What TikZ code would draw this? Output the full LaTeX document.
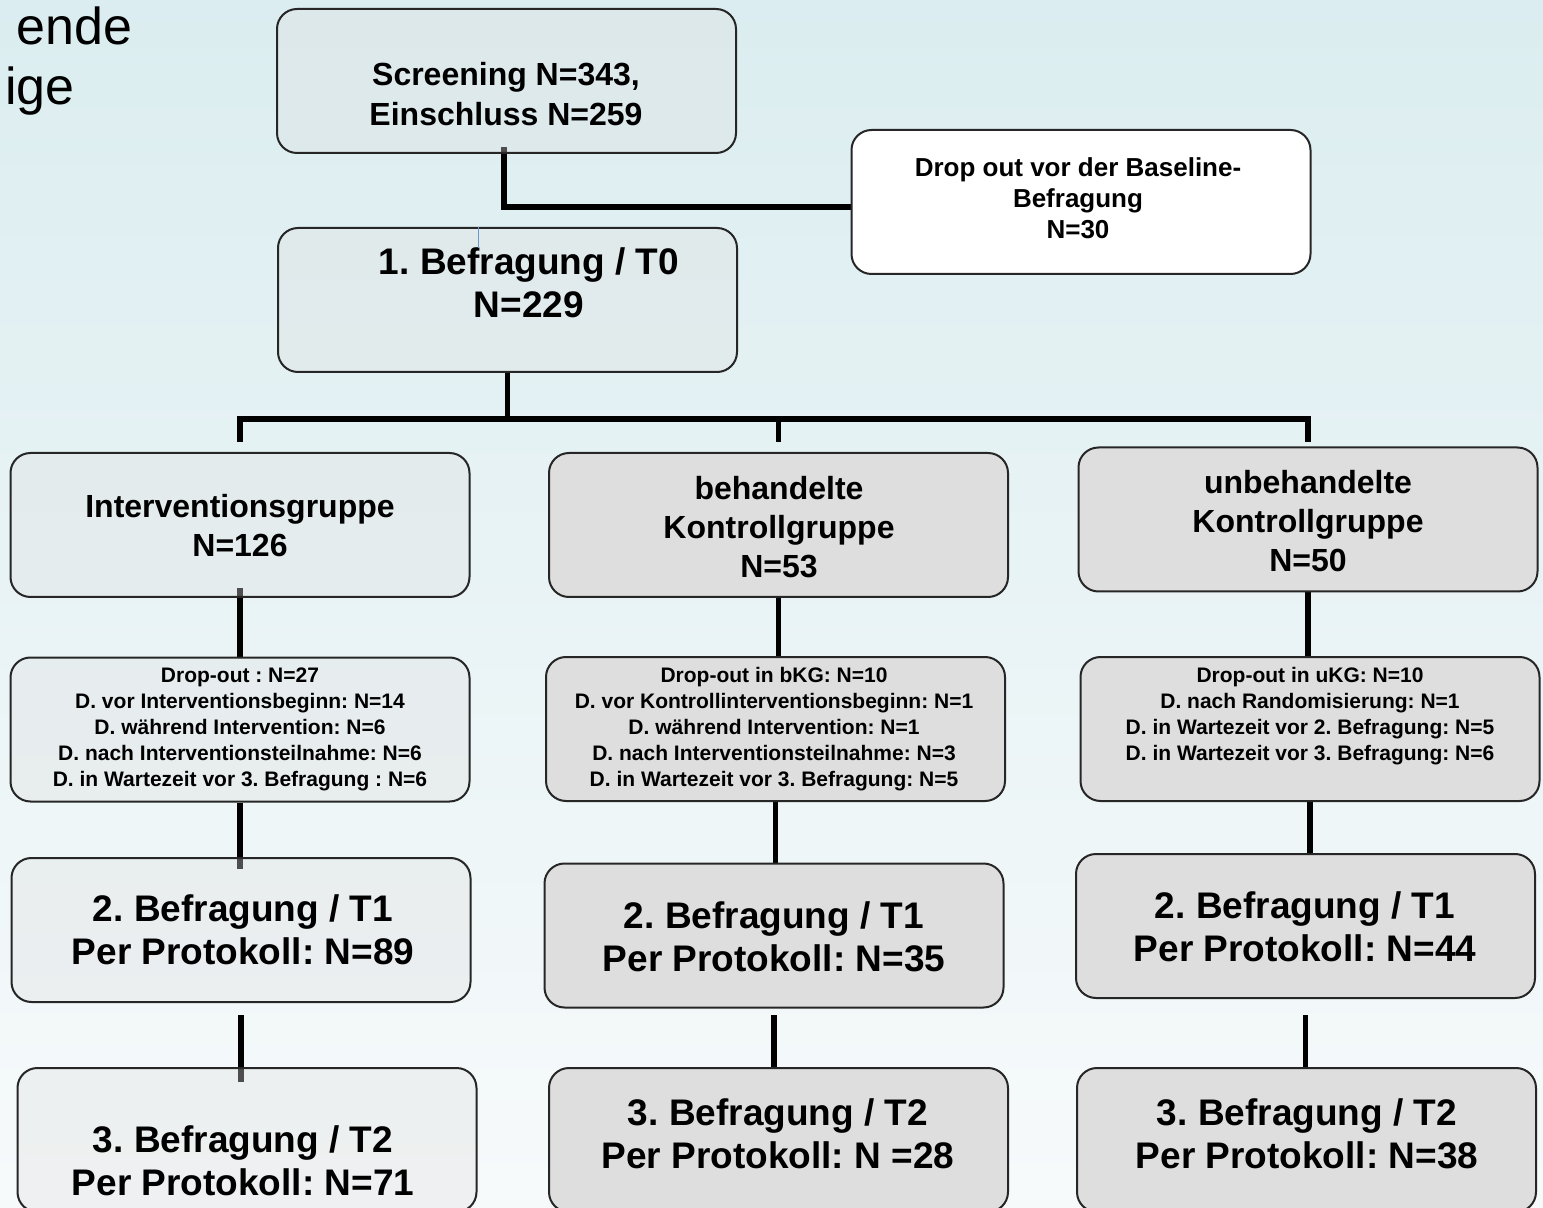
\documentclass[tikz,border=0pt]{standalone}
\usepackage{fontspec}
\setmainfont{Liberation Sans}
\frenchspacing

\definecolor{paperTop}{RGB}{219,237,240}
\definecolor{paperBot}{RGB}{247,250,251}
\definecolor{cursorBlue}{RGB}{110,150,205}

\pgfdeclarelayer{paper}
\pgfdeclarelayer{links}
\pgfsetlayers{paper,links,main}

\begin{document}
\begin{tikzpicture}[x=0.5pt,y=-0.5pt,
    box/.style={draw=black!85,line width=1pt,rounded corners=10pt,
      minimum width=229.5pt,minimum height=72pt,inner sep=0pt},
    pale/.style={box,fill=black!12,fill opacity=.35},
    grey/.style={box,fill=black!13},
    blank/.style={box,fill=white},
    link/.style={line width=2.8pt},
    bar/.style={line width=3.2pt,line cap=rect},
    titletext/.style={font=\fontsize{26}{31}\selectfont,inner sep=0pt},
    headtext/.style={font=\fontsize{16}{20}\selectfont\bfseries,align=center},
    grouptext/.style={font=\fontsize{16}{19.5}\selectfont\bfseries,align=center},
    bigtext/.style={font=\fontsize{18.5}{21.5}\selectfont\bfseries,align=center},
    droptext/.style={font=\fontsize{13}{15.5}\selectfont\bfseries,align=center},
    smalltext/.style={font=\fontsize{10.5}{13}\selectfont\bfseries,align=center}]

  \useasboundingbox (0,0) rectangle (1543,1208);
  \clip (0,0) rectangle (1543,1208);

  % --- slide background ---
  \begin{pgfonlayer}{paper}
    \shade[top color=paperTop,bottom color=paperBot] (0,0) rectangle (1543,1208);
  \end{pgfonlayer}

  % --- what is left of the slide title ---
  \node[titletext,anchor=base east] (title1) at (133,45) {ende};
  \node[titletext,anchor=base east] (title2) at (75,105) {ige};

  % --- screening and baseline ---
  \node[pale]  (scr)   at (506.5, 81) {};
  \node[pale]  (t0)    at (507.5,300) {};
  \node[blank] (drop0) at (1081,202) {};
  \node[headtext] (scrtext)   at (506,94)   {Screening N=343,\\Einschluss N=259};
  \node[bigtext]  (t0text)    at (529,283)  {1. Befragung / T0\\N=229};
  \node[droptext] (drop0text) at (1078,198) {Drop out vor der Baseline-\\Befragung\\N=30};
  \draw[cursorBlue,line width=0.5pt] ([xshift=-14.75pt]t0.north) -- ++(0,21);

  % --- the three groups ---
  \node[pale] (ig)  at (240,525)    {};
  \node[grey] (bkg) at (778.5,525)  {};
  \node[grey] (ukg) at (1308,519.5) {};
  \node[grouptext] (igtext)  at (240,526)  {Interventionsgruppe\\N=126};
  \node[grouptext] (bkgtext) at (779,527)  {behandelte\\Kontrollgruppe\\N=53};
  \node[grouptext] (ukgtext) at (1308,521) {unbehandelte\\Kontrollgruppe\\N=50};

  % --- drop-outs per group ---
  \node[pale] (dl) at (240,729.5) {};
  \node[grey] (dm) at (775.5,729) {};
  \node[grey] (dr) at (1310,729)  {};
  \node[smalltext] (dltext) at (240,729) {Drop-out : N=27\\D. vor Interventionsbeginn: N=14\\
    D. während Intervention: N=6\\D. nach Interventionsteilnahme: N=6\\
    D. in Wartezeit vor 3. Befragung : N=6};
  \node[smalltext] (dmtext) at (774,729) {Drop-out in bKG: N=10\\D. vor Kontrollinterventionsbeginn: N=1\\
    D. während Intervention: N=1\\D. nach Interventionsteilnahme: N=3\\
    D. in Wartezeit vor 3. Befragung: N=5};
  \node[smalltext] (drtext) at (1310,716) {Drop-out in uKG: N=10\\D. nach Randomisierung: N=1\\
    D. in Wartezeit vor 2. Befragung: N=5\\D. in Wartezeit vor 3. Befragung: N=6};

  % --- second and third survey ---
  \node[pale] (t1l) at (241,930)     {};
  \node[grey] (t1m) at (774,935.5)   {};
  \node[grey] (t1r) at (1305.5,926)  {};
  \node[pale] (t2l) at (247,1140)    {};
  \node[grey] (t2m) at (778.5,1140)  {};
  \node[grey] (t2r) at (1306.5,1140) {};
  \node[bigtext] (t1ltext) at (243,930)   {2. Befragung / T1\\Per Protokoll: N=89};
  \node[bigtext] (t1mtext) at (774,936.5) {2. Befragung / T1\\Per Protokoll: N=35};
  \node[bigtext] (t1rtext) at (1305,926.5){2. Befragung / T1\\Per Protokoll: N=44};
  \node[bigtext] (t2ltext) at (243,1161)  {3. Befragung / T2\\Per Protokoll: N=71};
  \node[bigtext] (t2mtext) at (778,1133.5){3. Befragung / T2\\Per Protokoll: N =28};
  \node[bigtext] (t2rtext) at (1307,1133.5){3. Befragung / T2\\Per Protokoll: N=38};

  % --- connectors, behind the boxes ---
  \coordinate (fork) at (507.5,419);
  \coordinate (stop) at (0,442);
  \coordinate (gap)  at (0,1015);
  \begin{pgfonlayer}{links}
    \draw[link] ([xshift=-1.25pt,yshift=3.5pt]scr.south) |- ([yshift=-2.5pt]drop0.west);
    \draw[link] (t0.south) -- (fork);
    \draw[bar] (fork -| ig.north) -- (fork -| ukg.north);
    \foreach \g in {ig,bkg,ukg}
      \draw[link] (fork -| \g.north) -- (stop -| \g.north);
    \draw[link] ([yshift=5pt]ig.south) -- (ig.south |- dl.north);
    \draw[link] (bkg.south) -- (bkg.south |- dm.north);
    \draw[link] (ukg.south) -- (ukg.south |- dr.north);
    \draw[link] (dl.south) -- ([yshift=-6pt]dl.south |- t1l.north);
    \draw[link] (dm.south) -- (dm.south |- t1m.north);
    \draw[link] (dr.south) -- (dr.south |- t1r.north);
    \draw[link] (gap -| t1l.south) -- ([yshift=-7.5pt]t1l.south |- t2l.north);
    \draw[link] (gap -| t1m.south) -- (t1m.south |- t2m.north);
    \draw[link] (gap -| t1r.south) -- (t1r.south |- t2r.north);
  \end{pgfonlayer}
\end{tikzpicture}
\end{document}
